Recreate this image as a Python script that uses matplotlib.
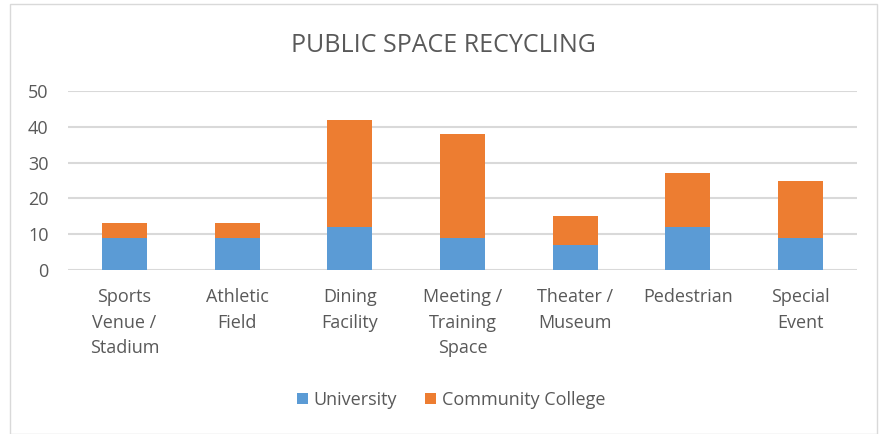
import numpy as np
import matplotlib.pyplot as plt
from matplotlib.patches import Rectangle

plt.rcParams['font.family'] = ['Open Sans', 'DejaVu Sans']

labels = ['Sports\nVenue /\nStadium', 'Athletic\nField', 'Dining\nFacility',
          'Meeting /\nTraining\nSpace', 'Theater /\nMuseum', 'Pedestrian', 'Special\nEvent']
university = [9, 9, 12, 9, 7, 12, 9]
community_college = [4, 4, 30, 29, 8, 15, 16]

text_color = '#595959'
x = np.arange(len(labels))
width = 0.4

fig = plt.figure(figsize=(8.87, 4.34), dpi=100)
ax = fig.add_axes([68/887, 1 - 270/434, 789/887, 179/434])

ax.bar(x, university, width, label='University', color='#5b9bd5', zorder=3)
ax.bar(x, community_college, width, bottom=university, label='Community College',
       color='#ed7d31', zorder=3)

ax.set_xlim(-0.5, len(labels) - 0.5)
ax.set_ylim(0, 50)
ax.set_yticks(range(0, 51, 10))
ax.grid(axis='y', color='#d9d9d9', linewidth=1.5, zorder=0)
for s in ax.spines.values():
    s.set_visible(False)
ax.tick_params(length=0, colors=text_color, labelsize=13)
ax.tick_params(axis='y', pad=14)
ax.tick_params(axis='x', pad=13)
ax.set_xticks(x)
ax.set_xticklabels(labels, linespacing=1.55)

fig.text(0.5, 1 - 45/434, 'PUBLIC SPACE RECYCLING', ha='center', va='center',
         fontsize=18, color=text_color)

fig.legend(loc='center', bbox_to_anchor=(451/887, 1 - 400/434), ncol=2, frameon=False,
           fontsize=13, labelcolor=text_color, handlelength=0.6, handleheight=0.6,
           handletextpad=0.3, columnspacing=1.6)

fig.patches.append(Rectangle((10/887, 0), 867/887, 1 - 4/434, transform=fig.transFigure,
                             fill=False, edgecolor='#d9d9d9', linewidth=1))

fig.savefig('out.png', dpi=100)
